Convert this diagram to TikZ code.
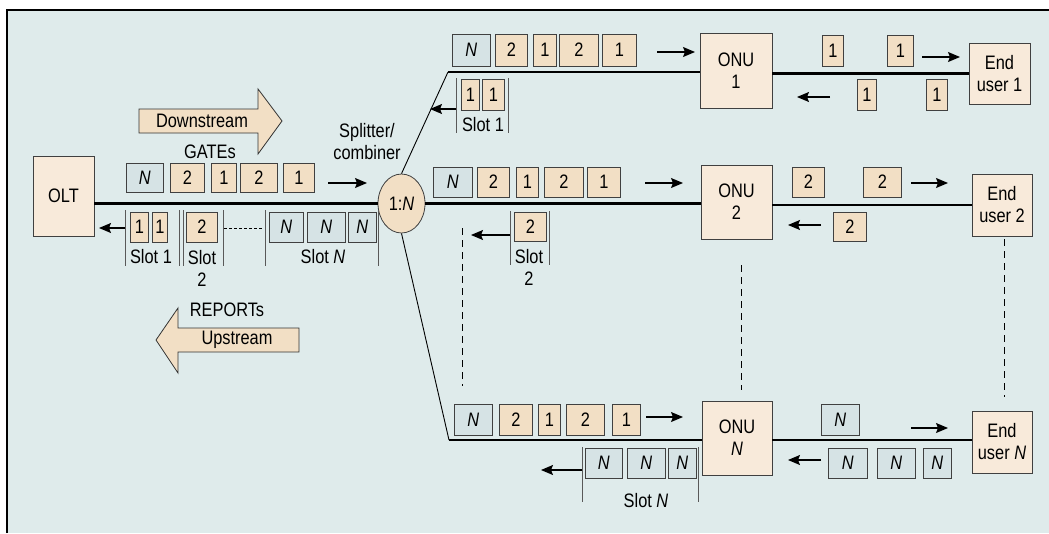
\documentclass[tikz,border=0pt]{standalone}
\usepackage{fontspec}
\setmainfont{Liberation Sans}[FakeStretch=0.84]
\usetikzlibrary{arrows.meta, shapes.geometric, positioning}

\definecolor{panel}{RGB}{223,235,235}
\definecolor{unitfill}{RGB}{248,234,218}
\definecolor{pktfill}{RGB}{242,223,197}
\definecolor{nfill}{RGB}{214,227,229}
\newcommand{\nn}{\textit{N}}

\begin{document}
\begin{tikzpicture}[x=1pt, y=-1pt, font=\fontsize{19.5}{22}\selectfont,
    unit/.style={draw=black!75, fill=unitfill, align=center, inner sep=0pt, line width=0.8pt},
    pkt/.style={draw=black!75, fill=pktfill, inner sep=0pt, anchor=west, minimum height=30pt, line width=0.8pt},
    npkt/.style={pkt, fill=nfill},
    fiber/.style={line width=2.2pt},
    branch/.style={line width=0.9pt},
    dir/.style={-{Stealth[length=12pt,width=10pt,inset=2pt]}, line width=1.1pt},
    slotline/.style={draw=black!65, line width=0.8pt},
    guide/.style={dash pattern=on 7pt off 5pt, line width=1pt},
    bigarrow/.style={draw=black!80, fill=pktfill, line width=0.8pt}]
    \useasboundingbox (0,0) rectangle (1049,533);
    \fill[white] (0,0) rectangle (1049,533);
    \fill[panel] (7,10) rectangle (1049,533);
    \draw[line width=2pt] (7,533) -- (7,10) -- (1049,10);

    % Define the nodes
    \node[unit, minimum width=61pt, minimum height=80pt] (olt) at (63.5,196) {OLT};
    \node[draw=black!75, fill=pktfill, ellipse, inner sep=0pt, minimum width=47pt, minimum height=59pt, line width=0.8pt] (split) at (401.5,203.5) {1:\nn};
    \node[align=center] (splittxt) at (367,142) {Splitter/\\combiner};
    \node[unit, minimum width=72pt, minimum height=75pt] (onu1) at (736,70.5) {ONU\\1};
    \node[unit, minimum width=71pt, minimum height=74pt] (onu2) at (736.5,202) {ONU\\2};
    \node[unit, minimum width=70pt, minimum height=74pt] (onuN) at (737,438) {ONU\\\nn};
    \node[unit, minimum width=61pt, minimum height=61pt] (eu1) at (999.5,73.5) {End\\user 1};
    \node[unit, minimum width=60pt, minimum height=62pt] (eu2) at (1002,205) {End\\user 2};
    \node[unit, minimum width=60pt, minimum height=62pt] (euN) at (1002,442) {End\\user \nn};
    \coordinate (c1) at (448,72);
    \coordinate (cN) at (449,440);
    \coordinate (g1) at (462,228);
    \coordinate (g2) at (741,265);
    \coordinate (g3) at (1004,239);

    % Define the fibres
    \draw[fiber] (olt.east |- split.west) -- (split.west);
    \draw[fiber] (split.east) -- (onu2.west |- split.east);
    \draw[branch] (split.north) -- (c1);
    \draw[branch] (split.south) -- (cN);
    \draw[fiber] (c1) -- (onu1.west |- c1);
    \draw[fiber] (cN) -- (onuN.west |- cN);
    \draw[fiber] (onu1.east |- eu1.west) -- (eu1.west);
    \draw[fiber] (onu2.east |- eu2.west) -- (eu2.west);
    \draw[fiber] (onuN.east |- cN) -- (euN.west |- cN);

    % Downstream / upstream arrows
    \draw[bigarrow] (139,109) -- (258,109) -- (258,89) -- (282,121) -- (258,154) -- (258,133) -- (139,133) -- cycle;
    \node (downtxt) at (202,121) {Downstream};
    \node (gatetxt) at (210,152) {GATEs};
    \draw[bigarrow] (299,328) -- (178,328) -- (178,308) -- (156,340) -- (178,373) -- (178,352) -- (299,352) -- cycle;
    \node (uptxt) at (237,340) {Upstream};
    \node (reptxt) at (227,310) {REPORTs};

    % OLT side
    \node[npkt, minimum width=37pt, minimum height=29pt] (oN) at (126,177.5) {\nn};
    \node[pkt, minimum width=34pt, minimum height=29pt] (o2a) at (170,177.5) {2};
    \node[pkt, minimum width=25pt, minimum height=29pt] (o1a) at (211,177.5) {1};
    \node[pkt, minimum width=37pt, minimum height=29pt] (o2b) at (240,177.5) {2};
    \node[pkt, minimum width=31pt, minimum height=29pt] (o1b) at (283,177.5) {1};
    \draw[dir] (328,183) -- (367,183);

    \node[pkt, minimum width=18pt] (u1a) at (130,227) {1};
    \node[pkt, minimum width=15pt] (u1b) at (152,227) {1};
    \node[pkt, minimum width=31pt] (u2) at (186,227) {2};
    \node[npkt, minimum width=34pt] (uNa) at (269,227) {\nn};
    \node[npkt, minimum width=38pt] (uNb) at (307,227) {\nn};
    \node[npkt, minimum width=28pt] (uNc) at (348,227) {\nn};
    \foreach \x in {125,179,183,223,265,378}
        \draw[slotline] (\x,210) -- (\x,266);
    \draw[densely dashed, line width=0.7pt] (224,228) -- (262,228);
    \draw[dir] (125,228) -- (99,228);
    \node (s1txt) at (151,257) {Slot 1};
    \node[align=center] (s2txt) at (202,268) {Slot\\2};
    \node (sNtxt) at (323,257) {Slot \nn};

    % Branch 1
    \node[npkt, minimum width=38pt, minimum height=32pt] (aN) at (452,50) {\nn};
    \node[pkt, minimum width=32pt, minimum height=32pt] (a2a) at (495,50) {2};
    \node[pkt, minimum width=23pt, minimum height=32pt] (a1a) at (533,50) {1};
    \node[pkt, minimum width=39pt, minimum height=32pt] (a2b) at (559,50) {2};
    \node[pkt, minimum width=34pt, minimum height=32pt] (a1b) at (602,50) {1};
    \draw[dir] (657,52) -- (695,52);
    \node[pkt, minimum width=18pt, minimum height=31pt] (b1a) at (461,94.5) {1};
    \node[pkt, minimum width=22pt, minimum height=31pt] (b1b) at (482,94.5) {1};
    \foreach \x in {456,508}
        \draw[slotline] (\x,78) -- (\x,133);
    \draw[dir] (456,109) -- (430,109);
    \node (t1txt) at (483,125) {Slot 1};
    \node[pkt, minimum width=21pt, minimum height=31pt] (e1a) at (822,50.5) {1};
    \node[pkt, minimum width=26pt, minimum height=31pt] (e1b) at (887,50.5) {1};
    \draw[dir] (922,57) -- (960,57);
    \node[pkt, minimum width=19pt, minimum height=31pt] (f1a) at (857,94.5) {1};
    \node[pkt, minimum width=21pt, minimum height=31pt] (f1b) at (926,94.5) {1};
    \draw[dir] (830,97) -- (797,97);

    % Branch 2
    \node[npkt, minimum width=39pt] (mN) at (433,182) {\nn};
    \node[pkt, minimum width=32pt] (m2a) at (477,182) {2};
    \node[pkt, minimum width=22pt] (m1a) at (516,182) {1};
    \node[pkt, minimum width=39pt] (m2b) at (544,182) {2};
    \node[pkt, minimum width=33pt] (m1b) at (587,182) {1};
    \draw[dir] (645,183) -- (683,183);
    \node[pkt, minimum width=32pt, minimum height=29pt] (n2) at (514,226.5) {2};
    \foreach \x in {510,549}
        \draw[slotline] (\x,211) -- (\x,265);
    \draw[dir] (510,235) -- (471,235);
    \node[align=center] (t2txt) at (529,267) {Slot\\2};
    \node[pkt, minimum width=32pt] (e2a) at (792,182) {2};
    \node[pkt, minimum width=38pt] (e2b) at (863,182) {2};
    \draw[dir] (911,183) -- (948,183);
    \node[pkt, minimum width=33pt, minimum height=29pt] (f2) at (833,226.5) {2};
    \draw[dir] (821,225) -- (788,225);

    % Dashed guides
    \draw[guide] (g1) -- ++(0,158);
    \draw[guide] (g2) -- ++(0,125);
    \draw[guide] (g3) -- ++(0,158);

    % Branch N
    \node[npkt, minimum width=38pt, minimum height=31pt] (pN) at (454,419.5) {\nn};
    \node[pkt, minimum width=33pt, minimum height=31pt] (p2a) at (499,419.5) {2};
    \node[pkt, minimum width=22pt, minimum height=31pt] (p1a) at (538,419.5) {1};
    \node[pkt, minimum width=38pt, minimum height=31pt] (p2b) at (566,419.5) {2};
    \node[pkt, minimum width=28pt, minimum height=31pt] (p1b) at (612,419.5) {1};
    \draw[dir] (646,417) -- (683,417);
    \node[npkt, minimum width=37pt] (qNa) at (585,463) {\nn};
    \node[npkt, minimum width=38pt] (qNb) at (627,463) {\nn};
    \node[npkt, minimum width=28pt] (qNc) at (668,463) {\nn};
    \foreach \x in {582,698}
        \draw[slotline] (\x,447) -- (\x,502);
    \draw[dir] (582,470) -- (541,470);
    \node (tNtxt) at (646,501) {Slot \nn};
    \node[npkt, minimum width=38pt, minimum height=31pt] (eN) at (821,419.5) {\nn};
    \draw[dir] (911,428) -- (948,428);
    \node[npkt, minimum width=39pt] (fNa) at (828,463) {\nn};
    \node[npkt, minimum width=38pt] (fNb) at (877,463) {\nn};
    \node[npkt, minimum width=28pt] (fNc) at (923,463) {\nn};
    \draw[dir] (821,460) -- (788,460);
\end{tikzpicture}
\end{document}
